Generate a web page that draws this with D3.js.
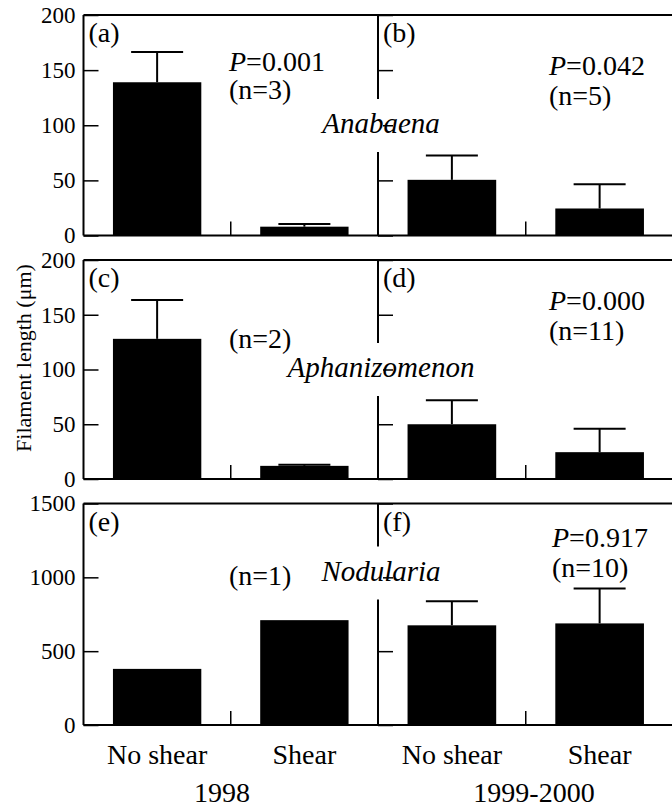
<!DOCTYPE html>
<html>
<head>
<meta charset="utf-8">
<script src="https://cdn.jsdelivr.net/npm/d3@7"></script>
<style>
  body { margin: 0; background: #fff; }
  svg { display: block; }
</style>
</head>
<body>
<div id="chart"></div>
<script>
// data
const categories = ["No shear", "Shear"];
const years = ["1998", "1999-2000"];
const panelLetters = ["(a)", "(b)", "(c)", "(d)", "(e)", "(f)"];
const species = ["Anabaena", "Aphanizomenon", "Nodularia"];
const yMax = [200, 200, 1500];
const yTicks = [[0, 50, 100, 150, 200], [0, 50, 100, 150, 200], [0, 500, 1000, 1500]];
// mean filament length per panel (a..f), [No shear, Shear]
const means = [[139, 8], [50.5, 24.5], [128, 12], [50, 24.5], [380, 710], [675, 688]];
// top of the error bar (mean + SE), null = no bar
const upper = [[166.5, 10.5], [72.5, 46.5], [163.5, 13], [72, 46], [null, null], [838, 925]];
const pValues = ["0.001", "0.042", null, "0.000", null, "0.917"];
const nLabels = ["(n=3)", "(n=5)", "(n=2)", "(n=11)", "(n=1)", "(n=10)"];

let w = 672;
let h = 807;
let serif = "Liberation Serif";

let svg = d3.select("#chart").append("svg")
  .attr("width", w)
  .attr("height", h)
  .style("font-family", serif);

let xLeft = 83.5, xMid = 378, xRight = 673.5;
let rows = [{top: 15, bottom: 235.5}, {top: 260, bottom: 479}, {top: 503.5, bottom: 725}];
let colRange = [[xLeft, xMid], [xMid, xRight]];

// where the annotations sit, per panel: P / n baselines as offsets from the panel top
let annot = [
  {x: 229, p: 56, n: 84},
  {x: 549, p: 60, n: 90},
  {x: 229, p: null, n: 88},
  {x: 549, p: 50, n: 80},
  {x: 229, p: null, n: 81},
  {x: 552, p: 43, n: 73}
];
let speciesY = [118, 117, 77];

rows.forEach(function(row, r){
  let yScale = d3.scaleLinear().domain([0, yMax[r]]).range([row.bottom, row.top]);

  for (let c = 0; c < 2; c++) {
    let k = r * 2 + c;
    let xScale = d3.scaleBand().domain(categories).range(colRange[c])
      .paddingInner(0.4).paddingOuter(0.2);
    let g = svg.append("g").attr("class", "panel");

    // bars
    let rowsData = categories.map((cat, i) => ({cat: cat, mean: means[k][i], up: upper[k][i]}));
    g.selectAll(".bar").data(rowsData).enter()
      .append("rect")
        .attr("class", "bar")
        .attr("x", d => xScale(d.cat))
        .attr("width", xScale.bandwidth())
        .attr("y", d => yScale(d.mean))
        .attr("height", d => yScale(0) - yScale(d.mean))
        .attr("fill", "#000");

    // error bars
    let errs = rowsData.filter(d => d.up != null);
    let cx = d => xScale(d.cat) + xScale.bandwidth() / 2;
    g.selectAll(".errv").data(errs).enter()
      .append("line")
        .attr("x1", cx).attr("x2", cx)
        .attr("y1", d => yScale(d.mean)).attr("y2", d => yScale(d.up))
        .attr("stroke", "#000").attr("stroke-width", 2);
    g.selectAll(".errh").data(errs).enter()
      .append("line")
        .attr("x1", d => cx(d) - 26).attr("x2", d => cx(d) + 26)
        .attr("y1", d => yScale(d.up)).attr("y2", d => yScale(d.up))
        .attr("stroke", "#000").attr("stroke-width", 2);

    // inward ticks on the panel's left edge
    let yAxis = d3.axisLeft(yScale).tickValues(yTicks[r]).tickFormat(d3.format("d"))
      .tickSizeInner(-15).tickSizeOuter(0).tickPadding(8);
    if (c == 1) yAxis.tickFormat("");
    let ag = g.append("g").attr("transform", "translate(" + colRange[c][0] + ",0)").call(yAxis);
    ag.attr("font-family", null).attr("font-size", null);
    ag.select(".domain").remove();
    ag.selectAll("line").attr("stroke", "#000").attr("stroke-width", 1.5);
    ag.selectAll("text").style("font-size", "23px").attr("fill", "#000");

    // separator tick between the two categories
    let sep = xScale(categories[1]) - xScale.step() * xScale.paddingInner() / 2;
    g.append("line")
      .attr("x1", sep).attr("x2", sep)
      .attr("y1", row.bottom).attr("y2", row.bottom - 14)
      .attr("stroke", "#000").attr("stroke-width", 1.5);

    // panel letter
    g.append("text")
      .attr("x", colRange[c][0] + 5)
      .attr("y", row.top + 27)
      .style("font-size", "28px")
      .text(panelLetters[k]);

    // P and n
    let a = annot[k];
    if (pValues[k] != null) {
      let pt = g.append("text").attr("x", a.x).attr("y", row.top + a.p).style("font-size", "28px");
      pt.append("tspan").style("font-style", "italic").text("P");
      pt.append("tspan").text("=" + pValues[k]);
    }
    g.append("text").attr("x", a.x).attr("y", row.top + a.n).style("font-size", "28px").text(nLabels[k]);
  }

  // frame
  let frame = svg.append("g").attr("stroke", "#000").attr("stroke-width", 2).attr("fill", "none");
  frame.append("line").attr("x1", xLeft).attr("x2", w).attr("y1", row.top).attr("y2", row.top);
  frame.append("line").attr("x1", xLeft).attr("x2", w).attr("y1", row.bottom).attr("y2", row.bottom);
  frame.append("line").attr("x1", xLeft).attr("x2", xLeft).attr("y1", row.top).attr("y2", row.bottom);
  frame.append("line").attr("x1", xMid).attr("x2", xMid).attr("y1", row.top).attr("y2", row.bottom);

  // species name, blanking the divider behind it
  let sy = row.top + speciesY[r];
  svg.append("rect")
    .attr("x", xMid - 5).attr("width", 10)
    .attr("y", sy - 34).attr("height", 53)
    .attr("fill", "#fff");
  svg.append("text")
    .attr("x", xMid + 3).attr("y", sy)
    .attr("text-anchor", "middle")
    .style("font-size", "29px").style("font-style", "italic")
    .text(species[r]);
});

// category labels under the bottom row
let bottom = rows[2].bottom;
for (let c = 0; c < 2; c++) {
  let xScale = d3.scaleBand().domain(categories).range(colRange[c]).paddingInner(0.4).paddingOuter(0.2);
  svg.append("g").selectAll("text").data(categories).enter()
    .append("text")
      .attr("x", d => xScale(d) + xScale.bandwidth() / 2)
      .attr("y", bottom + 39)
      .attr("text-anchor", "middle")
      .style("font-size", "28px")
      .text(d => d);
  svg.append("text")
    .attr("x", c == 0 ? 222 : 534)
    .attr("y", bottom + 77)
    .attr("text-anchor", "middle")
    .style("font-size", "28px")
    .text(years[c]);
}

// y axis title
svg.append("text")
  .attr("transform", "translate(31,358) rotate(-90)")
  .attr("text-anchor", "middle")
  .style("font-size", "22px")
  .text("Filament length (\u03bcm)");
</script>
</body>
</html>
